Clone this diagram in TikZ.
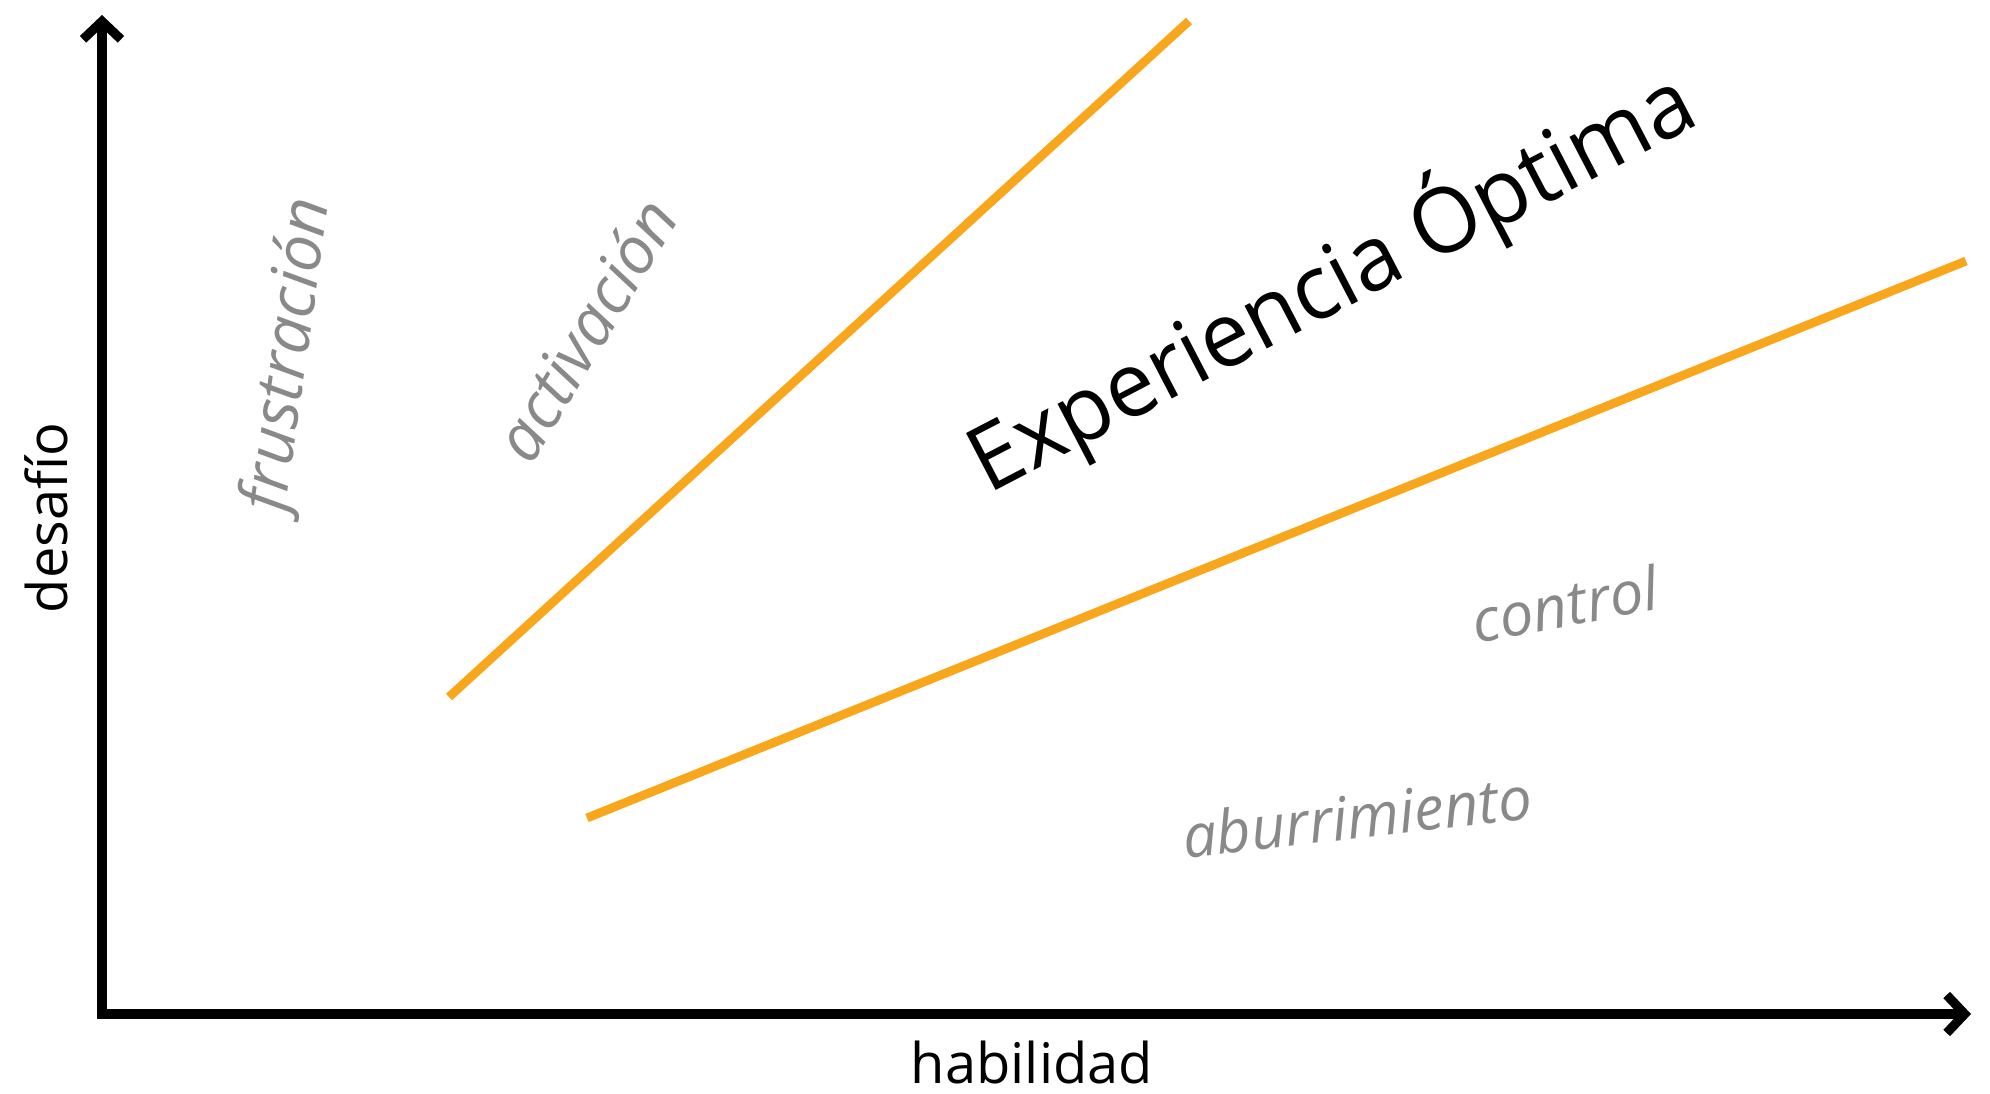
\documentclass[tikz,border=0pt]{standalone}
\usepackage{fontspec}
\setmainfont{Open Sans}
\usetikzlibrary{arrows.meta}
\definecolor{flowor}{RGB}{248,166,28}
\definecolor{labgray}{RGB}{137,137,137}
\begin{document}
\begin{tikzpicture}[x=0.5pt,y=0.5pt,
  axisline/.style={line width=4.6pt,line join=miter,
    {Straight Barb[length=9pt,width=19pt]}-{Straight Barb[length=9pt,width=19pt]}},
  bandline/.style={line width=4.4pt,draw=flowor},
  axlabel/.style={inner sep=0pt,font=\fontsize{28}{30}\selectfont,text=black},
  zonelabel/.style={inner sep=0pt,font=\itshape\fontsize{30}{32}\selectfont,text=labgray},
  bigzone/.style={zonelabel,font=\itshape\fontsize{32.5}{34}\selectfont},
  biglabel/.style={inner sep=0pt,font=\fontsize{45}{48}\selectfont,text=black}]
\useasboundingbox (0,0) rectangle (1990,1093);
\coordinate (ytip) at (102,1078);
\coordinate (orig) at (102,79);
\coordinate (xtip) at (1971,79);
\draw[axisline] (ytip) -- (orig) -- (xtip);
\coordinate (a1) at (449,396);
\coordinate (a2) at (1189,1072);
\coordinate (b1) at (587,275);
\coordinate (b2) at (1966,832);
\draw[bandline] (a1) -- (a2);
\draw[bandline] (b1) -- (b2);
\node[axlabel,anchor=base] (hab) at (1032,10) {habilidad};
\node[axlabel,anchor=base,rotate=90] (des) at (67,575) {desafío};
\node[bigzone,rotate=82] (fru) at (290,738) {frustración};
\node[bigzone,rotate=59] (act) at (585,764) {activación};
\node[biglabel,rotate=27.5] (exp) at (1331,812) {\scalebox{0.98}[1]{Experiencia Óptima}};
\node[zonelabel,rotate=10.5] (con) at (1565,489) {control};
\node[zonelabel,rotate=6.5] (abu) at (1357,277) {aburrimiento};
\end{tikzpicture}
\end{document}
